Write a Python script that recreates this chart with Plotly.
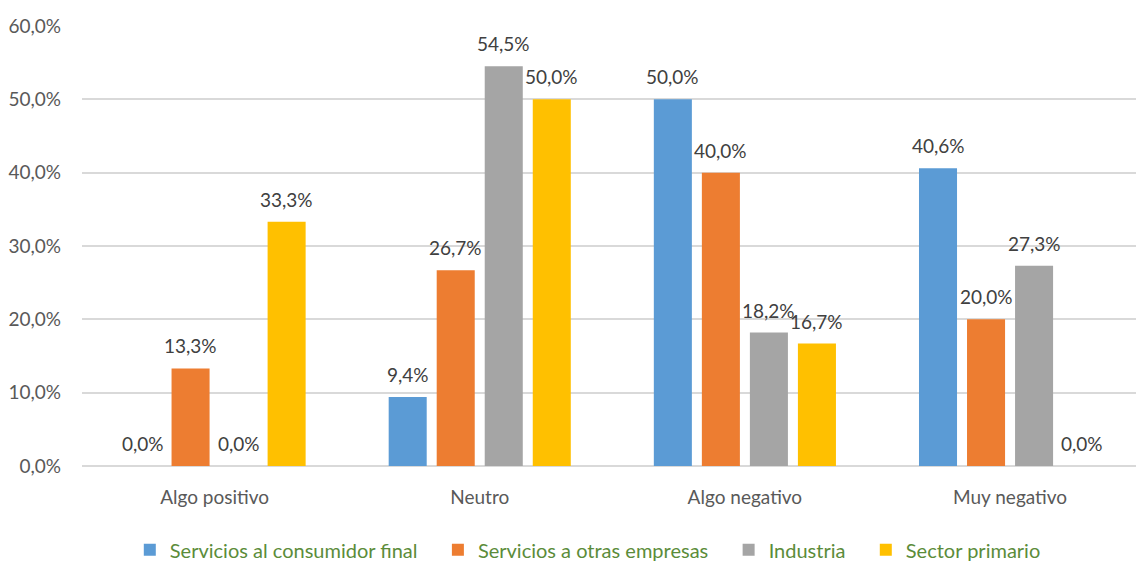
import plotly.graph_objects as go

categorias = ["Algo positivo", "Neutro", "Algo negativo", "Muy negativo"]
series = ["Servicios al consumidor final", "Servicios a otras empresas", "Industria", "Sector primario"]
consumidor_final = [0.0, 9.4, 50.0, 40.6]
otras_empresas = [13.3, 26.7, 40.0, 20.0]
industria = [0.0, 54.5, 18.2, 27.3]
sector_primario = [33.3, 50.0, 16.7, 0.0]
colores = ["#5B9BD5", "#ED7D31", "#A5A5A5", "#FFC000"]
valores = [consumidor_final, otras_empresas, industria, sector_primario]
ticks_y = [0, 10, 20, 30, 40, 50, 60]

FONT = "Lato"
GRIS = "#595959"
W, H = 1136, 561
M_L, M_R, M_T, M_B = 82, 0, 26, 95
X_RANGE = [-0.5, 3.475]
BARGAP = 0.2755

# width of one bar slot inside a group, in pixels
px_per_cat = (W - M_L - M_R) / (X_RANGE[1] - X_RANGE[0])
slot_px = px_per_cat * (1 - BARGAP) / len(series)

fig = go.Figure()
NBSP = "\u00a0"
for i, (nombre, vals, color) in enumerate(zip(series, valores, colores)):
    fig.add_trace(go.Bar(
        name=nombre + NBSP * 3, x=categorias, y=vals,
        marker=dict(color=color, line=dict(width=0)),
    ))
    shift = (i - (len(series) - 1) / 2) * slot_px
    for cat, v in zip(categorias, vals):
        fig.add_annotation(
            x=cat, y=v, xref="x", yref="y",
            text=f"{v:.1f}%".replace(".", ","),
            showarrow=False, xanchor="center", yanchor="bottom",
            xshift=shift, yshift=9,
            font=dict(family=FONT, size=19, color="#404040"),
        )

fig.update_layout(
    width=W, height=H,
    margin=dict(l=M_L, r=M_R, t=M_T, b=M_B, autoexpand=False),
    paper_bgcolor="white", plot_bgcolor="white",
    barmode="group", bargap=BARGAP, bargroupgap=0.208,
    font=dict(family=FONT, size=19, color=GRIS),
    xaxis=dict(range=X_RANGE, showgrid=False, showline=False, ticks="",
               ticklabelstandoff=18, automargin=False,
               tickfont=dict(family=FONT, size=19, color=GRIS)),
    yaxis=dict(range=[0, 60], tickvals=ticks_y,
               ticktext=[f"{v},0%" for v in ticks_y],
               showgrid=True, gridcolor="#D9D9D9", gridwidth=1.5,
               zeroline=True, zerolinecolor="#D9D9D9", zerolinewidth=1.5,
               ticks="", ticklabelstandoff=20, automargin=False,
               tickfont=dict(family=FONT, size=19, color=GRIS)),
    legend=dict(orientation="h", x=0.487, xanchor="center",
                yref="container", y=0.02, yanchor="middle",
                font=dict(family=FONT, size=20, color="#5B8C3A"),
                itemsizing="constant", traceorder="normal"),
    showlegend=True,
)

fig.write_html("out.html")
